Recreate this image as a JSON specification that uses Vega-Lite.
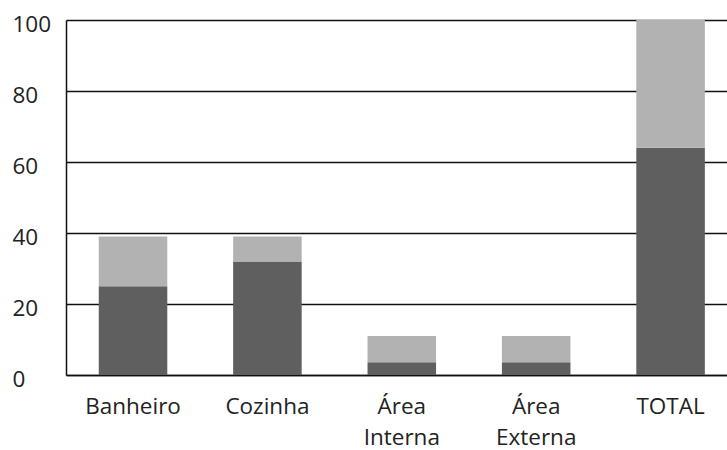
{
  "$schema": "https://vega.github.io/schema/vega-lite/v6.json",
  "width": 661,
  "height": 355,
  "autosize": {"type": "none"},
  "padding": {"left": 66, "top": 20, "right": 0, "bottom": 75},
  "background": "white",
  "config": {
    "view": {"stroke": null},
    "font": "Open Sans"
  },
  "data": {
    "values": [
      {"categoria": "Banheiro", "serie": "A", "valor": 25},
      {"categoria": "Banheiro", "serie": "B", "valor": 14},
      {"categoria": "Cozinha", "serie": "A", "valor": 32},
      {"categoria": "Cozinha", "serie": "B", "valor": 7},
      {"categoria": "Área Interna", "serie": "A", "valor": 3.6},
      {"categoria": "Área Interna", "serie": "B", "valor": 7.4},
      {"categoria": "Área Externa", "serie": "A", "valor": 3.6},
      {"categoria": "Área Externa", "serie": "B", "valor": 7.4},
      {"categoria": "TOTAL", "serie": "A", "valor": 64},
      {"categoria": "TOTAL", "serie": "B", "valor": 36}
    ]
  },
  "mark": {"type": "bar"},
  "encoding": {
    "x": {
      "field": "categoria",
      "type": "nominal",
      "sort": null,
      "scale": {"paddingInner": 0.49, "paddingOuter": 0.2437, "range": [0, 671.6]},
      "axis": {
        "title": null,
        "labelAngle": 0,
        "ticks": false,
        "labelPadding": 20,
        "labelFontSize": 22.5,
        "labelColor": "#222",
        "labelLineHeight": 31,
        "labelExpr": "split(datum.label, ' ')",
        "domainColor": "#111",
        "domainWidth": 1.5
      }
    },
    "y": {
      "field": "valor",
      "type": "quantitative",
      "aggregate": "sum",
      "stack": "zero",
      "scale": {"domain": [0, 100], "nice": false},
      "axis": {
        "title": null,
        "values": [0, 20, 40, 60, 80, 100],
        "ticks": false,
        "labelAlign": "left",
        "labelBaseline": "middle",
        "labelPadding": 54,
        "labelFontSize": 22.5,
        "labelColor": "#222",
        "labelOffset": 4,
        "grid": true,
        "gridColor": "#111",
        "gridWidth": 1.5,
        "domainColor": "#111",
        "domainWidth": 1.5
      }
    },
    "color": {
      "field": "serie",
      "type": "nominal",
      "scale": {"domain": ["A", "B"], "range": ["#5f5f5f", "#b2b2b2"]},
      "legend": null
    },
    "order": {"field": "serie", "sort": "ascending"}
  }
}
